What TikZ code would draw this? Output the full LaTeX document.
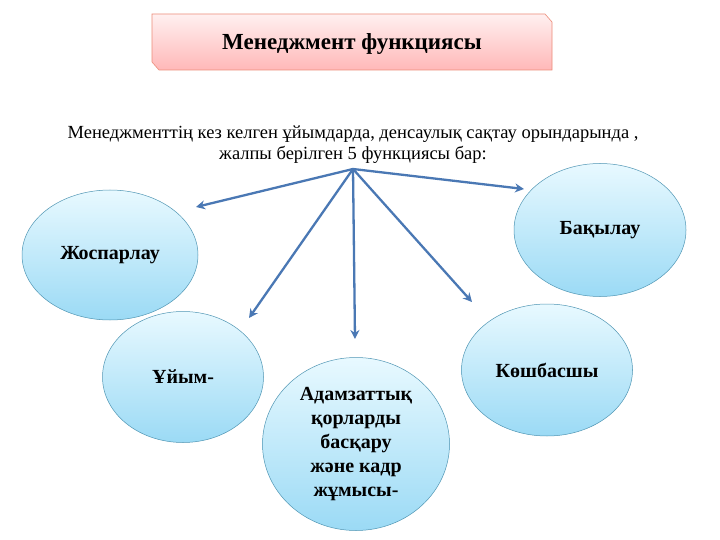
\documentclass[tikz,border=0pt]{standalone}
\usepackage{fontspec}
\setmainfont{Liberation Serif}
\usetikzlibrary{shapes.geometric,arrows.meta}
\definecolor{arr}{RGB}{74,120,180}
\definecolor{edge}{RGB}{80,150,180}
\definecolor{btop}{RGB}{232,249,255}
\definecolor{bbot}{RGB}{155,218,245}
\tikzset{
  bub/.style={ellipse, draw=edge, line width=0.5pt, top color=btop, bottom color=bbot, font=\bfseries\fontsize{20}{24}\selectfont, align=center, inner sep=0pt},
  conn/.style={draw=arr, line width=2.3pt, -{Stealth[length=9pt,width=9pt]}}
}
\begin{document}
\begin{tikzpicture}[x=1pt,y=-1pt]
\useasboundingbox (0,0) rectangle (720,540);
\fill[white] (0,0) rectangle (720,540);
\path[draw=red!50!brown!60, line width=0.6pt, top color=red!6, bottom color=red!28]
  (152,14) -- (545,14) -- (552,22) -- (552,70) -- (159,70) -- (152,62) -- cycle;
\node[font=\bfseries\fontsize{23}{27}\selectfont] (title) at (352,44) {Менеджмент функциясы};
\node[font=\fontsize{18.5}{21}\selectfont, align=center] (intro) at (353,145) {Менеджменттің кез келген ұйымдарда, денсаулық сақтау орындарында ,\\жалпы берілген 5 функциясы бар:};
\coordinate (o) at (353,169);
\node[bub, minimum width=176, minimum height=130] (zh) at (110,255) {Жоспарлау};
\node[bub, minimum width=161, minimum height=131] (u) at (183,377) {Ұйым-};
\node[bub, minimum width=187, minimum height=173] (a) at (356,444) {Адамзаттық\\қорларды\\басқару\\және кадр\\жұмысы-};
\node[bub, minimum width=171, minimum height=132] (k) at (547,370) {Көшбасшы};
\node[bub, minimum width=172, minimum height=133] (b) at (600,230) {Бақылау};
\coordinate (ezh) at (196,207);
\coordinate (eu) at (249,318);
\coordinate (ea) at (355,339);
\coordinate (ek) at (472,302);
\coordinate (eb) at (524,189);
\draw[conn] (o) -- (ezh);
\draw[conn] (o) -- (eu);
\draw[conn] (o) -- (ea);
\draw[conn] (o) -- (ek);
\draw[conn] (o) -- (eb);
\end{tikzpicture}
\end{document}
